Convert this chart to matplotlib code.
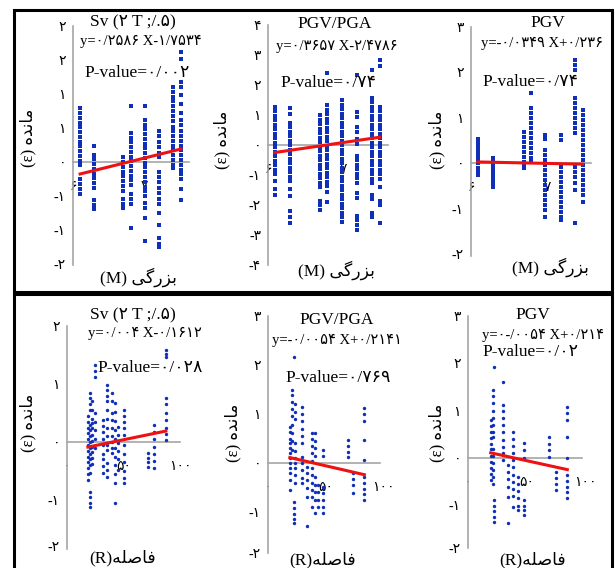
import matplotlib.pyplot as plt
import numpy as np

W, H = 615, 568
FONT = ['Liberation Serif', 'DejaVu Sans']

# persian words, already shaped (presentation forms) and in visual order
MANDE = "(\u03b5) \uFEE9\uFEAA\uFEE7\uFE8E\uFEE3"
BOZORGI = "(M) \uFBFD\uFB94\uFEAD\uFEB0\uFE91"
FASELE = "(R)\uFEEA\uFEE0\uFEBB\uFE8E\uFED3"

# ---- top row: residual vs magnitude (M) ----
a_x = [6.10, 6.30, 6.70, 6.82, 7.01, 7.21, 7.41, 7.52]
a_y = [
    [0.79, 0.72, 0.65, 0.58, 0.51, 0.44, 0.37, 0.30, 0.23, 0.16, 0.09, 0.02, -0.04, -0.25, -0.32, -0.40, -0.47],
    [0.24, 0.10, 0.04, -0.03, -0.10, -0.17, -0.24, -0.31, -0.38, -0.56, -0.63, -0.69],
    [0.07, 0.00, -0.07, -0.14, -0.21, -0.28, -0.35, -0.42, -0.55, -0.62, -0.68],
    [0.82, 0.43, 0.36, 0.29, 0.22, 0.15, 0.08, 0.01, -0.06, -0.13, -0.20, -0.27, -0.34, -0.47, -0.54, -0.61, -0.97],
    [0.82, 0.62, 0.55, 0.48, 0.41, 0.34, 0.27, 0.20, 0.13, 0.06, -0.01, -0.08, -0.15, -0.22, -0.29, -0.36, -0.43, -0.50, -0.60, -0.67, -0.82, -1.16],
    [0.46, 0.38, 0.30, 0.22, 0.14, 0.07, -0.15, -0.22, -0.30, -0.38, -0.46, -0.54, -0.62, -0.75, -0.93, -1.12, -1.20, -1.25],
    [1.10, 1.03, 0.96, 0.89, 0.82, 0.75, 0.68, 0.61, 0.52, 0.45, 0.38, 0.31, 0.24, 0.17, 0.10, 0.03, -0.04, -0.09],
    [1.62, 1.52, 1.18, 1.10, 0.98, 0.85, 0.72, 0.62, 0.55, 0.45, 0.38, 0.31, 0.24, 0.17, 0.10, 0.03, -0.04, -0.11, -0.18, -0.25, -0.40, -0.56],
]
b_x = [6.09, 6.29, 6.69, 6.79, 6.99, 7.19, 7.39, 7.49]
b_y = [
    [1.27, 1.12, 0.97, 0.82, 0.67, 0.52, 0.37, 0.22, 0.07, -0.08, -0.23, -0.38, -0.53, -0.68, -0.83, -0.98, -1.20, -1.45, -1.67],
    [1.23, 1.05, 0.75, 0.60, 0.45, 0.30, 0.15, 0.00, -0.15, -0.30, -0.45, -0.60, -0.75, -0.90, -1.05, -1.20, -1.45, -1.70, -2.20, -2.40, -2.60],
    [1.00, 0.85, 0.70, 0.55, 0.40, 0.25, 0.10, -0.05, -0.20, -0.35, -0.50, -0.65, -0.80, -0.95, -1.10, -1.25, -1.40, -1.85, -2.00, -2.17],
    [2.40, 1.33, 1.18, 1.03, 0.88, 0.73, 0.58, 0.43, 0.28, 0.13, -0.02, -0.17, -0.32, -0.47, -0.62, -0.77, -0.92, -1.07, -1.22, -1.37, -1.55, -1.90],
    [1.50, 1.35, 1.20, 1.05, 0.90, 0.75, 0.60, 0.45, 0.30, 0.15, 0.00, -0.15, -0.30, -0.45, -0.60, -0.75, -0.90, -1.05, -1.20, -1.35, -1.50, -1.65, -1.80, -1.95, -2.10, -2.25, -2.40, -2.57],
    [2.33, 1.10, 0.95, 0.60, 0.45, 0.20, 0.05, -0.35, -0.50, -0.65, -0.80, -0.95, -1.10, -1.25, -1.60, -1.75, -2.35, -2.50, -2.65, -2.83],
    [2.50, 1.57, 1.42, 1.27, 1.12, 0.97, 0.82, 0.67, 0.52, 0.37, 0.22, 0.07, -0.08, -0.23, -0.38, -0.53, -0.68, -0.83, -0.98, -1.13, -1.28, -1.65, -1.80, -2.25, -2.40],
    [2.83, 2.63, 1.27, 1.12, 0.97, 0.82, 0.67, 0.52, 0.37, 0.22, 0.07, -0.08, -0.23, -0.38, -0.53, -0.68, -0.83, -0.98, -1.13, -1.40, -1.85, -2.00, -2.60],
]
c_x = [6.09, 6.29, 6.70, 6.79, 6.97, 7.18, 7.37, 7.47]
c_y = [
    [0.53, 0.44, 0.35, 0.26, 0.17, 0.08, -0.01, -0.10, -0.19, -0.26],
    [0.11, 0.03, -0.05, -0.13, -0.21, -0.29, -0.37, -0.45, -0.53],
    [0.68, 0.57, 0.46, 0.35, 0.24, 0.13, 0.02, -0.05, -0.11],
    [1.54, 1.21, 1.10, 0.99, 0.88, 0.77, 0.66, 0.55, 0.44, 0.33, 0.22, 0.11, 0.07],
    [0.62, 0.52, 0.29, 0.18, 0.07, -0.04, -0.15, -0.26, -0.37, -0.48, -0.59, -0.70, -0.81, -0.92, -1.03, -1.19],
    [0.62, 0.50, -0.09, -0.20, -0.31, -0.42, -0.53, -0.64, -0.75, -0.86, -0.97, -1.08, -1.19, -1.25],
    [2.26, 2.15, 2.04, 1.43, 1.32, 1.21, 1.10, 0.99, 0.88, 0.77, 0.66, -0.09, -0.20, -0.31, -0.45, -0.59, -1.32],
    [1.16, 1.05, 0.94, 0.83, 0.72, 0.61, 0.50, 0.39, 0.28, 0.17, 0.06, -0.05, -0.16, -0.27, -0.38, -0.49, -0.60, -0.71, -0.86],
]

# ---- bottom row: residual vs distance (R) ----
d_x = [18.5, 20.5, 22.5, 24.5, 32, 35, 39.5, 42.5, 45.5, 50, 71.5, 77, 87.5]
d_y = [
    [0.45, 0.35, 0.25, 0.15, 0.05, -0.05, -0.15, -0.25, -0.35, -0.45, -0.55, -0.65],
    [0.84, 0.76, 0.66, 0.56, 0.30, 0.20, 0.10, 0.00, -0.10, -0.20, -0.30, -0.40, -0.53, -0.86, -0.95, -1.05, -1.12],
    [0.70, 0.55, 0.40, 0.32, 0.24, 0.12, 0.02, -0.08, -0.18, -0.28, -0.38],
    [1.33, 1.22, 1.12, 0.50, 0.35, 0.20, 0.05, -0.10],
    [0.38, 0.28, 0.18, 0.05, -0.05, -0.20, -0.30, -0.42, -0.53],
    [0.98, 0.90, 0.80, 0.70, 0.55, 0.40, 0.25, 0.10, -0.05, -0.14, -0.36, -0.48, -0.60],
    [0.84, 0.70, 0.50, 0.38, 0.25, 0.10, 0.00, -0.10, -0.19],
    [0.67, 0.52, 0.36, 0.20, 0.05, -0.10, -0.25, -0.40, -0.55, -0.71, -1.05],
    [0.26, 0.12, -0.02, -0.16, -0.30, -0.48],
    [0.55, 0.45, 0.35, 0.25, 0.12, -0.05, -0.20, -0.35, -0.50, -0.62, -0.71],
    [-0.19, -0.27, -0.35, -0.43],
    [0.29, 0.18, 0.05, -0.08, -0.20, -0.32, -0.45],
    [1.59, 1.52, 1.47, 0.76, 0.66, 0.50, 0.38, 0.25, 0.14, 0.03],
]
e_x = [19, 21, 22.6, 23.5, 29.3, 33.6, 38, 41, 43.2, 48, 69.3, 74.2, 83.8]
e_y = [
    [0.73, 0.63, 0.50, 0.40, 0.30, 0.20, 0.10, 0.00, -0.10, -0.20, -0.35, -0.55],
    [1.49, 1.38, 1.25, 1.10, 0.95, 0.78, 0.62, 0.45, 0.27],
    [2.16, -0.80, -0.92, -1.05, -1.15, -1.22],
    [1.20, 1.05, 0.90, 0.40, 0.25, 0.10, 0.00, -0.10, -0.25, -0.40],
    [1.14, 1.00, 0.85, 0.70, 0.55, 0.40, 0.12, 0.00, -0.15, -0.30, -0.41],
    [-0.08, -0.20, -0.35, -0.50, -0.69, -1.29],
    [0.61, 0.50, 0.35, 0.20, 0.05, -0.10, -0.25, -0.40, -0.55, -0.70, -0.90],
    [0.61, 0.45, 0.30, 0.15, -0.29, -0.45, -0.60, -0.75, -1.02],
    [-0.45, -0.60, -0.75, -0.90],
    [0.27, 0.15, -0.49, -0.62, -0.76, -0.90, -1.02],
    [0.47, 0.35, 0.22, 0.12],
    [-0.20, -0.32, -0.45, -0.61],
    [1.12, 1.00, 0.85, 0.47, 0.06, -0.29, -0.40, -0.52, -0.64, -0.76],
]
f_x = [19.4, 21.1, 22.5, 30.2, 34.5, 38.7, 43, 47.9, 69.5, 75.2, 84.9]
f_y = [
    [0.80, 0.68, 0.55, 0.42, 0.30, 0.18, 0.05, -0.08, -0.20, -0.33, -0.46],
    [1.43, 1.30, 1.15, 1.00, 0.85, 0.70, 0.55, 0.44, 0.20, 0.05, -0.10, -0.25, -0.40, -0.55],
    [1.92, -0.88, -1.00, -1.12, -1.24, -1.35],
    [1.60, 1.12, 0.98, 0.84, 0.70, 0.55, 0.38, 0.23, 0.10, -0.04],
    [-0.15, -0.30, -0.45, -0.60, -0.82, -1.37],
    [0.55, 0.40, 0.25, 0.10, -0.04, -0.19, -0.35, -0.50, -0.65, -0.80, -1.03],
    [-0.40, -0.55, -0.70, -0.85, -1.00, -1.09],
    [0.32, 0.16, 0.00, -0.88, -1.00, -1.10, -1.20],
    [0.44, 0.30, 0.16, 0.02],
    [-0.29, -0.42, -0.55, -0.67],
    [1.07, 0.94, 0.80, 0.44, 0.00, -0.36, -0.48, -0.60, -0.72, -0.84],
]

# regression lines (slope, intercept) as printed on the chart
fit_slope = [0.2586, 0.3657, -0.0349, 0.004, -0.0054, -0.0054]
fit_icpt = [-1.7534, -2.4786, 0.236, -0.1612, 0.2141, 0.214]

titles = ["Sv (۲ T ;/.۵)", "PGV/PGA", "PGV", "Sv (۲ T ;/.۵)", "PGV/PGA", "PGV"]
eqs = ["y=۰/۲۵۸۶ X-۱/۷۵۳۴", "y=۰/۳۶۵۷ X-۲/۴۷۸۶", "y=-۰/۰۳۴۹ X+۰/۲۳۶",
       "y=۰/۰۰۴ X-۰/۱۶۱۲", "y=-۰/۰۰۵۴ X+۰/۲۱۴۱", "y=۰-/۰۰۵۴ X+۰/۲۱۴"]
pvals = ["P-value=۰/۰۰۲", "P-value=۰/۷۴", "P-value=۰/۷۴",
         "P-value=۰/۰۲۸", "P-value=۰/۷۶۹", "P-value=۰/۰۲"]

a_yt = [2, 1.5, 1, 0.5, 0, -0.5, -1, -1.5]
a_ytl = ["۲", "۲", "۱", "۱", "۰", "-۱", "-۱", "-۲"]
b_yt = [4, 3, 2, 1, 0, -1, -2, -3, -4]
b_ytl = ["۴", "۳", "۲", "۱", "۰", "-۱", "-۲", "-۳", "-۴"]
c_yt = [3, 2, 1, 0, -1, -2]
c_ytl = ["۳", "۲", "۱", "۰", "-۱", "-۲"]
d_yt = [2, 1, 0, -1, -1.8]
d_ytl = ["۲", "۱", "۰", "-۱", "-۲"]
e_yt = [3, 2, 1, 0, -1, -1.84]
e_ytl = ["۳", "۲", "۱", "۰", "-۱", "-۲"]
f_yt = [3, 2, 1, 0, -1, -1.9]
f_ytl = ["۳", "۲", "۱", "۰", "-۱", "-۲"]
m_xt = [6, 7]
m_xtl = ["۶", "۷"]
r_xt = [0, 50, 100]
r_xtl = ["۰", "۵۰", "۱۰۰"]

fig = plt.figure(figsize=(W / 100, H / 100), dpi=100)

# two boxes around the rows
for top, bot in [(10, 292), (294, 580)]:
    fig.add_artist(plt.Rectangle((14 / W, 1 - bot / H), 598 / W, (bot - top) / H,
                                 transform=fig.transFigure, fill=False, ec='black', lw=2.2))


def ftext(x, y, s, size, **kw):
    fig.text(x / W, 1 - y / H, s, fontsize=size, family=FONT, ha='center', va='center', **kw)


def panel(i, rect, xlim, ylim, xs, ys, yt, ytl, xt, xtl, marker, msize, txt, xlab, xbound=None):
    l, t, w, h = rect
    ax = fig.add_axes([l / W, 1 - (t + h) / H, w / W, h / H])
    ax.patch.set_alpha(0)
    px = np.concatenate([[x] * len(y) for x, y in zip(xs, ys)])
    py = np.concatenate(ys)
    ax.scatter(px, py, s=msize, marker=marker, color='#0f2fb8', lw=0, zorder=3)
    lx = np.array([min(xs), max(xs)])
    ax.plot(lx, fit_slope[i] * lx + fit_icpt[i], color='#ee1111', lw=2.2, zorder=4)
    ax.set_xlim(*xlim)
    ax.set_ylim(*ylim)
    for s in ['top', 'right']:
        ax.spines[s].set_visible(False)
    ax.spines['left'].set_color('#a6a6a6')
    ax.spines['left'].set_linewidth(1.2)
    ax.spines['bottom'].set_position(('data', 0))
    ax.spines['bottom'].set_color('#a6a6a6')
    ax.spines['bottom'].set_linewidth(1.2)
    if xbound:
        ax.spines['bottom'].set_bounds(*xbound)
    ax.set_yticks(yt)
    ax.set_yticklabels(ytl, family=FONT, fontsize=10)
    ax.set_xticks(xt)
    ax.set_xticklabels(xtl, family=FONT, fontsize=10)
    ax.tick_params(axis='y', length=0, pad=5)
    ax.tick_params(axis='x', length=0, pad=13)
    (tx, ty), (ex, ey), (pvx, pvy), (yx, yy), (xx, xy) = txt
    ftext(tx, ty, titles[i], 12.5)
    ftext(ex, ey, eqs[i], 10.5)
    ftext(pvx, pvy, pvals[i], 12.5)
    ftext(yx, yy, MANDE, 12, rotation=90)
    ftext(xx, xy, xlab, 12.5)


panel(0, (73, 26, 115.7, 239.4), (6, 7.63), (-1.52, 2.0), a_x, a_y, a_yt, a_ytl, m_xt, m_xtl, 's', 5.5,
      [(133, 22), (141, 41), (137, 73), (28, 138), (139, 277)], BOZORGI)
panel(1, (268, 25, 120, 240), (6, 7.6), (-4.0, 4.0), b_x, b_y, b_yt, b_ytl, m_xt, m_xtl, 's', 5.5,
      [(335, 24), (337, 46), (328, 83), (222, 140), (337, 270)], BOZORGI)
panel(2, (471, 26.5, 120, 229.8), (6, 7.58), (-2.05, 3.0), c_x, c_y, c_yt, c_ytl, m_xt, m_xtl, 's', 5.5,
      [(548, 23), (542, 43), (530, 82), (437, 140), (550, 267)], BOZORGI)
panel(3, (67, 326, 113, 223.3), (0, 100), (-1.85, 2.0), d_x, d_y, d_yt, d_ytl, r_xt, r_xtl, 'o', 6,
      [(133, 315), (145, 333), (150, 368), (28, 423), (123, 558)], FASELE)
panel(4, (268, 316, 115, 237.2), (0, 100), (-1.84, 3.0), e_x, e_y, e_yt, e_ytl, r_xt, r_xtl, 'o', 6,
      [(337, 320), (337, 340), (338, 378), (233, 433), (323, 560)], FASELE, xbound=(0, 97))
panel(5, (468, 315.5, 117, 232.75), (0, 100), (-1.9, 3.0), f_x, f_y, f_yt, f_ytl, r_xt, r_xtl, 'o', 6,
      [(533, 315), (543, 335), (530, 352), (437, 433), (533, 560)], FASELE, xbound=(0, 97.5))

fig.savefig('out.png', dpi=100)
